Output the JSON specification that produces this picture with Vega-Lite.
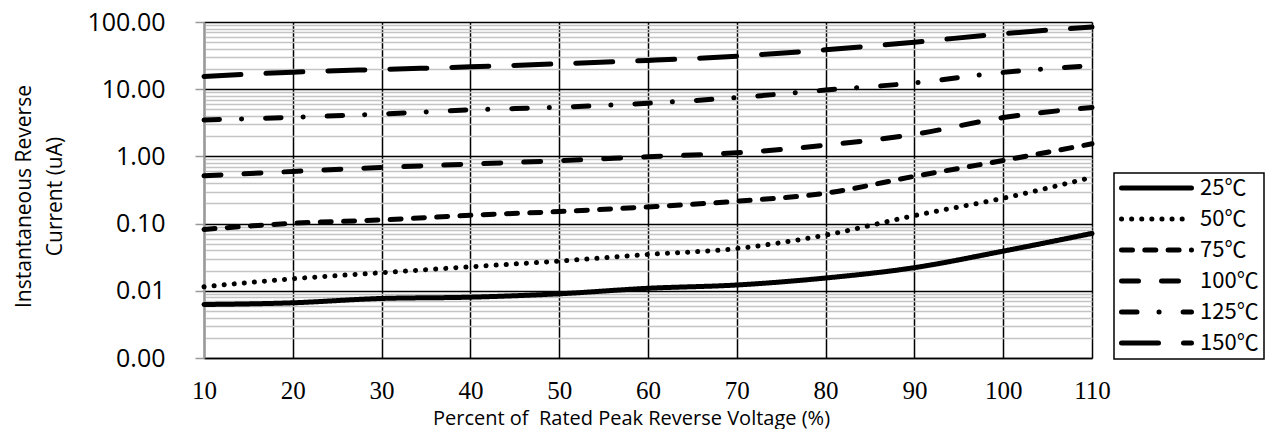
{
  "$schema": "https://vega.github.io/schema/vega-lite/v6.json",
  "autosize": {"type": "none"},
  "width": 888,
  "height": 336,
  "padding": {"left": 204, "top": 22, "right": 182, "bottom": 71},
  "background": "white",
  "config": {"view": {"stroke": null}, "legend": {"strokeWidth": 1.5}},
  "data": {"values": [
    {"x": 10, "t": "25℃", "v": 0.00625}, {"x": 20, "t": "25℃", "v": 0.00663}, {"x": 30, "t": "25℃", "v": 0.00769}, {"x": 40, "t": "25℃", "v": 0.00804}, {"x": 50, "t": "25℃", "v": 0.00902}, {"x": 60, "t": "25℃", "v": 0.0109}, {"x": 70, "t": "25℃", "v": 0.0122}, {"x": 80, "t": "25℃", "v": 0.0155}, {"x": 90, "t": "25℃", "v": 0.0221}, {"x": 100, "t": "25℃", "v": 0.0389}, {"x": 110, "t": "25℃", "v": 0.0714},
    {"x": 10, "t": "50℃", "v": 0.0115}, {"x": 20, "t": "50℃", "v": 0.0151}, {"x": 30, "t": "50℃", "v": 0.0186}, {"x": 40, "t": "50℃", "v": 0.0228}, {"x": 50, "t": "50℃", "v": 0.0277}, {"x": 60, "t": "50℃", "v": 0.0348}, {"x": 70, "t": "50℃", "v": 0.0426}, {"x": 80, "t": "50℃", "v": 0.0676}, {"x": 90, "t": "50℃", "v": 0.1316}, {"x": 100, "t": "50℃", "v": 0.239}, {"x": 110, "t": "50℃", "v": 0.488},
    {"x": 10, "t": "75℃", "v": 0.082}, {"x": 20, "t": "75℃", "v": 0.101}, {"x": 30, "t": "75℃", "v": 0.1135}, {"x": 40, "t": "75℃", "v": 0.133}, {"x": 50, "t": "75℃", "v": 0.151}, {"x": 60, "t": "75℃", "v": 0.177}, {"x": 70, "t": "75℃", "v": 0.215}, {"x": 80, "t": "75℃", "v": 0.284}, {"x": 90, "t": "75℃", "v": 0.505}, {"x": 100, "t": "75℃", "v": 0.87}, {"x": 110, "t": "75℃", "v": 1.54},
    {"x": 10, "t": "100℃", "v": 0.514}, {"x": 20, "t": "100℃", "v": 0.597}, {"x": 30, "t": "100℃", "v": 0.685}, {"x": 40, "t": "100℃", "v": 0.769}, {"x": 50, "t": "100℃", "v": 0.862}, {"x": 60, "t": "100℃", "v": 0.99}, {"x": 70, "t": "100℃", "v": 1.13}, {"x": 80, "t": "100℃", "v": 1.47}, {"x": 90, "t": "100℃", "v": 2.13}, {"x": 100, "t": "100℃", "v": 3.78}, {"x": 110, "t": "100℃", "v": 5.34},
    {"x": 10, "t": "125℃", "v": 3.48}, {"x": 20, "t": "125℃", "v": 3.82}, {"x": 30, "t": "125℃", "v": 4.28}, {"x": 40, "t": "125℃", "v": 4.92}, {"x": 50, "t": "125℃", "v": 5.39}, {"x": 60, "t": "125℃", "v": 6.18}, {"x": 70, "t": "125℃", "v": 7.5}, {"x": 80, "t": "125℃", "v": 9.7}, {"x": 90, "t": "125℃", "v": 12.4}, {"x": 100, "t": "125℃", "v": 17.8}, {"x": 110, "t": "125℃", "v": 22.4},
    {"x": 10, "t": "150℃", "v": 15.5}, {"x": 20, "t": "150℃", "v": 17.9}, {"x": 30, "t": "150℃", "v": 19.7}, {"x": 40, "t": "150℃", "v": 21.5}, {"x": 50, "t": "150℃", "v": 23.9}, {"x": 60, "t": "150℃", "v": 26.8}, {"x": 70, "t": "150℃", "v": 31}, {"x": 80, "t": "150℃", "v": 38.6}, {"x": 90, "t": "150℃", "v": 50}, {"x": 100, "t": "150℃", "v": 67}, {"x": 110, "t": "150℃", "v": 84}
  ]},
  "mark": {"type": "line", "color": "black", "strokeWidth": 5, "strokeCap": "round", "interpolate": "monotone"},
  "encoding": {
    "x": {
      "field": "x", "type": "quantitative",
      "scale": {"domain": [10, 110], "nice": false, "zero": false},
      "axis": {
        "values": [10, 20, 30, 40, 50, 60, 70, 80, 90, 100, 110],
        "grid": true, "gridColor": "black", "gridWidth": 1.5, "gridOpacity": 1,
        "ticks": false, "domain": true, "domainColor": "black", "domainWidth": 1.5,
        "labelFont": "Liberation Serif", "labelFontSize": 25, "labelColor": "black",
        "labelPadding": 20, "labelOverlap": false, "labelFlush": false,
        "title": "Percent of\u00a0 Rated Peak Reverse Voltage (%)",
        "titleFont": "Open Sans", "titleFontSize": 20, "titleFontWeight": "normal", "titleColor": "black",
        "titleX": 427, "titleY": 66, "titleAlign": "center", "titleBaseline": "alphabetic"
      }
    },
    "y": {
      "field": "v", "type": "quantitative",
      "scale": {"type": "log", "domain": [0.001, 100], "nice": false},
      "axis": {
        "values": [0.001, 0.002, 0.003, 0.004, 0.005, 0.006, 0.007, 0.008, 0.009, 0.01, 0.02, 0.03, 0.04, 0.05, 0.06, 0.07, 0.08, 0.09, 0.1, 0.2, 0.3, 0.4, 0.5, 0.6, 0.7, 0.8, 0.9, 1, 2, 3, 4, 5, 6, 7, 8, 9, 10, 20, 30, 40, 50, 60, 70, 80, 90, 100],
        "grid": true, "gridOpacity": 1, "gridWidth": 1.5,
        "gridColor": {"condition": {"test": "abs(log(datum.value)/LN10 - round(log(datum.value)/LN10)) < 0.001", "value": "#000000"}, "value": "#c4c4c4"},
        "tickColor": {"condition": {"test": "abs(log(datum.value)/LN10 - round(log(datum.value)/LN10)) < 0.001", "value": "#999999"}, "value": "transparent"},
        "tickSize": 9, "tickWidth": 1.5,
        "domain": true, "domainColor": "#999999", "domainWidth": 2,
        "labelExpr": "abs(log(datum.value)/LN10 - round(log(datum.value)/LN10)) < 0.001 ? format(datum.value, '.2f') : ''",
        "labelFont": "Open Sans", "labelFontSize": 25, "labelColor": "black", "labelPadding": 30,
        "labelOverlap": false, "labelBound": false, "labelFlush": false,
        "title": ["Instantaneous Reverse", "Current (uA)"],
        "titleFont": "Open Sans", "titleFontSize": 21, "titleFontWeight": "normal", "titleColor": "black",
        "titleAngle": -90, "titleAlign": "center", "titleBaseline": "alphabetic", "titleLineHeight": 31,
        "titleX": -174, "titleY": 174
      }
    },
    "strokeDash": {
      "field": "t", "type": "nominal",
      "scale": {
        "domain": ["25℃", "50℃", "75℃", "100℃", "125℃", "150℃"],
        "range": [[1, 0], [0.1, 10], [11, 12.3], [17, 23], [15.5, 22, 0.1, 24], [37, 25]]
      },
      "legend": {
        "title": null, "orient": "none", "legendX": 910, "legendY": 151,
        "strokeColor": "black", "fillColor": "white", "padding": 5,
        "symbolType": "stroke", "symbolSize": 4900, "symbolStrokeWidth": 5, "symbolStrokeColor": "black",
        "labelFont": "Noto Sans CJK SC", "labelFontSize": 22, "labelColor": "black", "labelOffset": 6,
        "clipHeight": 20, "rowPadding": 9, "labelLimit": 200,
        "encode": {"symbols": {"update": {"strokeCap": {"value": "round"}}}}
      }
    }
  }
}
